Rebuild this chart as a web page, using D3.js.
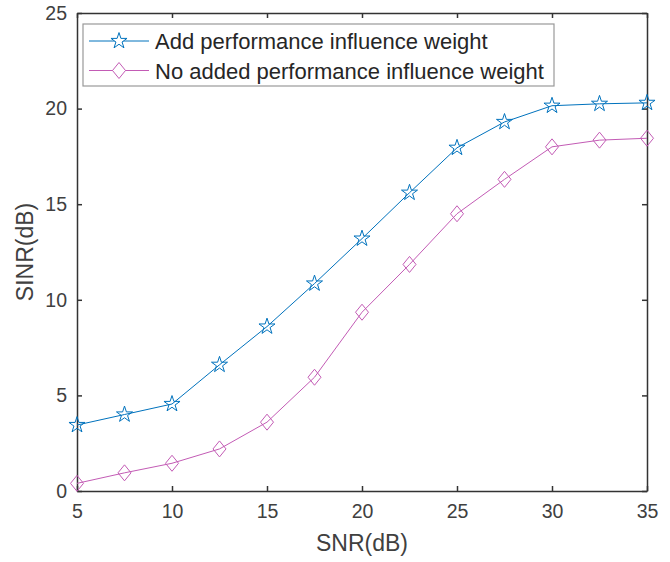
<!DOCTYPE html>
<html>
<head>
<meta charset="utf-8">
<script src="https://cdn.jsdelivr.net/npm/d3@7"></script>
<style>
  body { margin: 0; background: #fff; }
  text { font-family: "Liberation Sans", Arial, sans-serif; }
</style>
</head>
<body>
<div id="vis"></div>
<script>
var snr = [5, 7.5, 10, 12.5, 15, 17.5, 20, 22.5, 25, 27.5, 30, 32.5, 35];
var withWeight = [3.45, 4.0, 4.55, 6.6, 8.6, 10.85, 13.2, 15.6, 17.95, 19.3, 20.15, 20.25, 20.3];
var noWeight = [0.4, 0.95, 1.45, 2.2, 3.6, 5.95, 9.35, 11.85, 14.5, 16.3, 18.0, 18.35, 18.45];
var seriesNames = ['Add performance influence weight', 'No added performance influence weight'];
var xTicks = [5, 10, 15, 20, 25, 30, 35];
var yTicks = [0, 5, 10, 15, 20, 25];

var width = 670, height = 562;
var margin = {left: 77, top: 13, right: 23, bottom: 71};
var drawWidth = width - margin.left - margin.right;
var drawHeight = height - margin.top - margin.bottom;

var axisColor = '#333333';
var colors = ['#0072bd', '#c35bb5'];

var svg = d3.select('#vis').append('svg')
    .attr('width', width)
    .attr('height', height);

var g = svg.append('g')
    .attr('transform', 'translate(' + margin.left + ',' + margin.top + ')');

var xScale = d3.scaleLinear().domain([5, 35]).range([0, drawWidth]);
var yScale = d3.scaleLinear().domain([0, 25]).range([drawHeight, 0]);

// axes with inward ticks, box on all four sides
var xAxis = d3.axisBottom(xScale).tickValues(xTicks).tickSizeInner(-5).tickSizeOuter(0).tickPadding(13);
var yAxis = d3.axisLeft(yScale).tickValues(yTicks).tickSizeInner(-5).tickSizeOuter(0).tickPadding(10);
var xTop = d3.axisTop(xScale).tickValues(xTicks).tickSizeInner(-5).tickSizeOuter(0).tickFormat('');
var yRight = d3.axisRight(yScale).tickValues(yTicks).tickSizeInner(-5).tickSizeOuter(0).tickFormat('');

var styleAxis = function(sel) {
    sel.selectAll('path').attr('stroke', axisColor).attr('stroke-width', 1.5);
    sel.selectAll('line').attr('stroke', axisColor).attr('stroke-width', 1.5);
    sel.selectAll('text').attr('fill', '#404040').style('font-size', '19.5px');
};

g.append('g').attr('transform', 'translate(0,' + drawHeight + ')').call(xAxis).call(styleAxis);
g.append('g').call(yAxis).call(styleAxis);
g.append('g').call(xTop).call(styleAxis);
g.append('g').attr('transform', 'translate(' + drawWidth + ',0)').call(yRight).call(styleAxis);

// axis titles
svg.append('text')
    .attr('x', margin.left + drawWidth / 2)
    .attr('y', 551)
    .attr('text-anchor', 'middle')
    .attr('fill', '#404040')
    .style('font-size', '23px')
    .text('SNR(dB)');

svg.append('text')
    .attr('transform', 'translate(33,' + (margin.top + drawHeight / 2) + ') rotate(-90)')
    .attr('text-anchor', 'middle')
    .attr('fill', '#404040')
    .style('font-size', '23px')
    .text('SINR(dB)');

var line = d3.line()
    .x(function(d) { return xScale(d.x); })
    .y(function(d) { return yScale(d.y); });

var star = d3.symbol().type(d3.symbolStar).size(80);
var diamond = function(h, w) {
    return 'M0,' + (-h) + 'L' + w + ',0L0,' + h + 'L' + (-w) + ',0Z';
};
var markerPath = function(k) {
    return k === 0 ? star() : diamond(8, 6.5);
};

var series = [withWeight, noWeight].map(function(vals) {
    return snr.map(function(x, i) { return {x: x, y: vals[i]}; });
});

series.forEach(function(data, k) {
    g.append('path')
        .datum(data)
        .attr('fill', 'none')
        .attr('stroke', colors[k])
        .attr('stroke-width', 1)
        .attr('d', line);

    g.selectAll('.m' + k).data(data).enter().append('path')
        .attr('class', 'm' + k)
        .attr('transform', function(d) {
            return 'translate(' + xScale(d.x) + ',' + yScale(d.y) + ')';
        })
        .attr('d', markerPath(k))
        .attr('fill', 'none')
        .attr('stroke', colors[k])
        .attr('stroke-width', 1);
});

// legend
var legend = svg.append('g').attr('transform', 'translate(83,24)');
legend.append('rect')
    .attr('width', 471)
    .attr('height', 62)
    .attr('fill', '#fff')
    .attr('stroke', '#999')
    .attr('stroke-width', 1.2);

seriesNames.forEach(function(name, k) {
    var y = 17 + k * 29.5;
    legend.append('line')
        .attr('x1', 6).attr('x2', 66)
        .attr('y1', y).attr('y2', y)
        .attr('stroke', colors[k])
        .attr('stroke-width', 1);
    legend.append('path')
        .attr('transform', 'translate(36,' + y + ')')
        .attr('d', markerPath(k))
        .attr('fill', '#fff')
        .attr('stroke', colors[k])
        .attr('stroke-width', 1);
    legend.append('text')
        .attr('x', 72)
        .attr('y', y + 8)
        .attr('fill', '#262626')
        .style('font-size', '22px')
        .text(name);
});
</script>
</body>
</html>
